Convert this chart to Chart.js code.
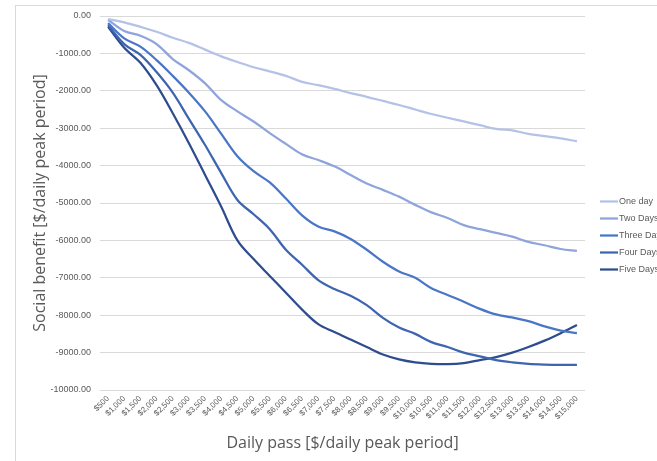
<!DOCTYPE html>
<html>
<head>
<meta charset="utf-8">
<script src="https://cdn.jsdelivr.net/npm/chart.js@4.4.0/dist/chart.umd.min.js"></script>
<style>
  html, body { margin: 0; padding: 0; background: #fff; }
  #wrap { position: relative; width: 657px; height: 461px; overflow: hidden; }
  #frame { position: absolute; left: 15px; top: 5px; width: 700px; height: 500px;
           border-left: 1px solid #d9d9d9; border-top: 1px solid #d9d9d9; pointer-events: none; }
  canvas { position: absolute; left: 0; top: 0; }
</style>
</head>
<body>
<div id="wrap">
  <canvas id="chart" width="657" height="461"></canvas>
  <div id="frame"></div>
</div>
<script>
// Daily pass prices ($500 .. $15,000)
const passLabels = ['$500','$1,000','$1,500','$2,000','$2,500','$3,000','$3,500','$4,000','$4,500','$5,000',
  '$5,500','$6,000','$6,500','$7,000','$7,500','$8,000','$8,500','$9,000','$9,500','$10,000',
  '$10,500','$11,000','$11,500','$12,000','$12,500','$13,000','$13,500','$14,000','$14,500','$15,000'];

const oneDay = [-80,-170,-290,-420,-580,-720,-900,-1080,-1230,-1370,-1480,-1600,-1760,-1850,-1950,
  -2060,-2160,-2270,-2380,-2500,-2620,-2720,-2820,-2920,-3020,-3060,-3150,-3210,-3270,-3350];
const twoDays = [-100,-400,-530,-750,-1150,-1450,-1800,-2250,-2550,-2820,-3130,-3420,-3700,-3850,-4020,
  -4250,-4480,-4650,-4830,-5050,-5250,-5400,-5590,-5700,-5800,-5900,-6040,-6130,-6230,-6280];
const threeDays = [-190,-600,-820,-1180,-1600,-2050,-2550,-3150,-3750,-4150,-4450,-4880,-5330,-5630,-5760,
  -5960,-6250,-6570,-6830,-7000,-7280,-7460,-7640,-7830,-7980,-8060,-8160,-8300,-8410,-8480];
const fourDays = [-240,-750,-1040,-1500,-2050,-2750,-3450,-4200,-4920,-5300,-5700,-6250,-6650,-7060,-7300,
  -7480,-7730,-8070,-8330,-8500,-8720,-8850,-9000,-9100,-9200,-9260,-9300,-9320,-9330,-9330];
const fiveDays = [-290,-850,-1250,-1850,-2600,-3400,-4250,-5100,-6000,-6500,-6950,-7400,-7850,-8240,-8450,
  -8650,-8850,-9050,-9180,-9260,-9300,-9310,-9280,-9200,-9120,-9000,-8850,-8680,-8480,-8260];

const seriesNames = ['One day', 'Two Days', 'Three Days', 'Four Days', 'Five Days'];
const seriesColors = ['#b4c2e6', '#8ea4db', '#4a76c8', '#3d65b0', '#2e4d8e'];

const textColor = '#595959';

// legend drawn at the right edge, cut off like the original
const sideLegend = {
  id: 'sideLegend',
  afterDraw(chart) {
    const ctx = chart.ctx;
    const ys = [201.5, 218.5, 235.5, 252.5, 269.5];
    ctx.save();
    ctx.font = '9px "Liberation Sans", Arial, sans-serif';
    ctx.textBaseline = 'middle';
    ctx.textAlign = 'left';
    chart.data.datasets.forEach((ds, i) => {
      ctx.strokeStyle = ds.borderColor;
      ctx.lineWidth = 2.25;
      ctx.beginPath();
      ctx.moveTo(600, ys[i]);
      ctx.lineTo(618, ys[i]);
      ctx.stroke();
      ctx.fillStyle = textColor;
      ctx.fillText(ds.label, 619, ys[i]);
    });
    ctx.restore();
  }
};

const datasets = [oneDay, twoDays, threeDays, fourDays, fiveDays].map((data, i) => ({
  label: seriesNames[i],
  data: data,
  borderColor: seriesColors[i],
  backgroundColor: seriesColors[i],
  borderWidth: 2.25,
  pointRadius: 0,
  tension: 0.35,
  fill: false
}));

new Chart(document.getElementById('chart'), {
  type: 'line',
  data: { labels: passLabels, datasets: datasets },
  options: {
    responsive: false,
    animation: false,
    layout: { padding: { left: 0, right: 72, top: 16, bottom: 0 } },
    plugins: { legend: { display: false }, tooltip: { enabled: false } },
    scales: {
      x: {
        offset: true,
        grid: { display: false, drawTicks: false },
        border: { display: false },
        ticks: {
          color: textColor,
          font: { size: 8, family: '"Liberation Sans", Arial, sans-serif' },
          maxRotation: 45,
          minRotation: 45,
          autoSkip: false,
          padding: 4
        },
        title: {
          display: true,
          text: 'Daily pass [$/daily peak period]',
          color: textColor,
          font: { size: 16, family: '"Open Sans", sans-serif' },
          padding: { top: 0, bottom: 8 }
        },
        afterFit(scale) { scale.height = 71; }
      },
      y: {
        min: -10000,
        max: 0,
        grid: { color: '#d9d9d9', drawTicks: false },
        border: { display: false },
        ticks: {
          stepSize: 1000,
          color: textColor,
          font: { size: 9, family: '"Liberation Sans", Arial, sans-serif' },
          padding: 9,
          callback: v => v.toFixed(2)
        },
        title: {
          display: true,
          text: 'Social benefit [$/daily peak period]',
          color: textColor,
          font: { size: 16, family: '"Open Sans", sans-serif' },
          padding: { top: 31, bottom: 0 }
        },
        afterFit(scale) { scale.width = 100; }
      }
    }
  },
  plugins: [sideLegend]
});
</script>
</body>
</html>
